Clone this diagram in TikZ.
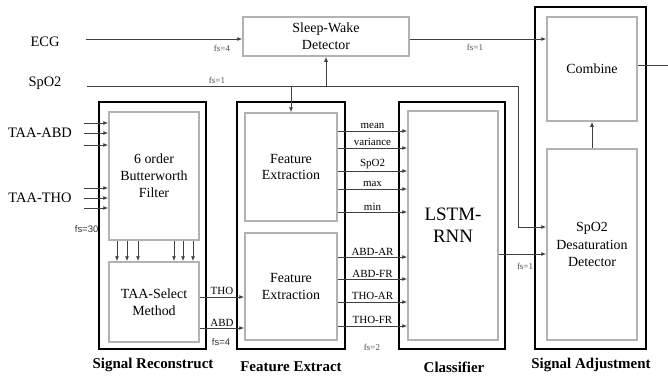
\documentclass[tikz,border=0pt]{standalone}
\usepackage{fontspec}
\setmainfont{Liberation Serif}
\setsansfont{Liberation Sans}
\usetikzlibrary{arrows.meta, positioning}

\begin{document}
\begin{tikzpicture}[
  x=1bp, y=-1bp,
  outer/.style={rectangle, draw=black, line width=1.7bp, inner sep=0pt},
  inner/.style={rectangle, draw=black!30, line width=1.5bp, inner sep=0pt,
                align=center, font=\fontsize{14}{17}\selectfont},
  arr/.style={-{Latex[length=5bp,width=4bp]}, draw=black!75, line width=0.9bp},
  wire/.style={draw=black!75, line width=0.9bp},
  lbl/.style={font=\fontsize{14.5}{17}\selectfont},
  feat/.style={font=\fontsize{11}{13}\selectfont, inner sep=1.5bp},
  fs/.style={font=\fontsize{9}{10}\selectfont, text=black!70},
  fssans/.style={font=\sffamily\fontsize{9.5}{10}\selectfont, text=black!80},
  stage/.style={font=\bfseries\fontsize{15}{17}\selectfont}
]
\useasboundingbox (0,0) rectangle (668,378);

% inputs
\node[lbl] (ecg)  at (45,42)  {ECG};
\node[lbl] (spo2) at (45,83)  {SpO2};
\node[lbl] (abd)  at (40,133) {TAA-ABD};
\node[lbl] (tho)  at (40,198) {TAA-THO};
\coordinate (ecgin)  at (86,39);
\coordinate (spoin)  at (87,86);
\coordinate (abdin)  at (84,133);
\coordinate (thoin)  at (84,198);
\coordinate (spoturn) at (518,86);
\coordinate (outend) at (668,65);

% stages
\node[outer, minimum width=107bp, minimum height=247bp] (rec) at (152.5,225.5) {};
\node[outer, minimum width=108bp, minimum height=247bp] (fex) at (291,225.5) {};
\node[outer, minimum width=106bp, minimum height=247bp] (cls) at (452,225.5) {};
\node[outer, minimum width=111bp, minimum height=342bp] (adj) at (590.5,178) {};

\node[inner, minimum width=166bp, minimum height=39bp] (sw) at (326,36.5) {Sleep-Wake\\Detector};
\node[inner, minimum width=90bp, minimum height=128bp] (bw) at (154,176) {6 order\\Butterworth\\Filter};
\node[inner, minimum width=90bp, minimum height=80bp] (sel) at (154,302) {TAA-Select\\Method};
\node[inner, minimum width=92bp, minimum height=108bp] (fe1) at (291,167) {Feature\\Extraction};
\node[inner, minimum width=92bp, minimum height=107bp] (fe2) at (291,286.5) {Feature\\Extraction};
\node[inner, minimum width=90bp, minimum height=229bp,
      font=\fontsize{19}{22}\selectfont] (lstm) at (453,225.5) {LSTM-\\RNN};
\node[inner, minimum width=90bp, minimum height=104bp] (comb) at (592,69) {Combine};
\node[inner, minimum width=90bp, minimum height=191bp,
      font=\fontsize{14}{17.5}\selectfont] (desat) at (592,244.5) {SpO2\\Desaturation\\Detector};

\node[stage] (recl) at (153,365) {Signal Reconstruct};
\node[stage] (fexl) at (291,367) {Feature Extract};
\node[stage] (clsl) at (454,367) {Classifier};
\node[stage] (adjl) at (591,365) {Signal Adjustment};

% connectors
\draw[arr] (ecgin) -- (sw.west |- ecgin);
\draw[arr] (sw.east |- ecgin) -- (comb.west |- ecgin);
\draw[wire] (spoin) -- (spoturn);
\draw[arr] (spoturn) |- (desat.west |- 0,227);
\draw[arr] (sw.south |- spoin) -- (sw.south);
\draw[arr] (fe1.north |- spoin) -- (fe1.north);
\foreach \y in {123,133,145}
  \draw[arr] (abdin |- 0,\y) -- (bw.west |- 0,\y);
\foreach \y in {188,198,208}
  \draw[arr] (thoin |- 0,\y) -- (bw.west |- 0,\y);
\foreach \x in {117,127,138,174,183,193}
  \draw[arr] (bw.south -| \x,0) -- (sel.north -| \x,0);
\draw[arr] (sel.east |- 0,297) -- node[above, feat] {THO} (fe2.west |- 0,297);
\draw[arr] (sel.east |- 0,328) -- node[above, feat] {ABD} (fe2.west |- 0,328);
\foreach \y/\t in {131/mean, 148/variance, 171/SpO2, 189/max, 212/min}
  \draw[arr] (fe1.east |- 0,\y) -- node[above, feat] {\t} (lstm.west |- 0,\y);
\foreach \y/\t in {257/ABD-AR, 279/ABD-FR, 302/THO-AR, 326/THO-FR}
  \draw[arr] (fe2.east |- 0,\y) -- node[above, feat] {\t} (lstm.west |- 0,\y);
\draw[arr] (lstm.east |- 0,254) -- (desat.west |- 0,254);
\draw[arr] (desat.north) -- (comb.south);
\draw[wire] (comb.east |- outend) -- (outend);

% rates
\node[fs] at (222,48) {fs=4};
\node[fs] at (217,80) {fs=1};
\node[fs] at (475,47) {fs=1};
\node[fs] at (372,347) {fs=2};
\node[fs] at (525,266) {fs=1};
\node[fssans, anchor=east, inner sep=0.5bp] at (99,229) {fs=30};
\node[fssans] at (221,342) {fs=4};
\end{tikzpicture}
\end{document}
